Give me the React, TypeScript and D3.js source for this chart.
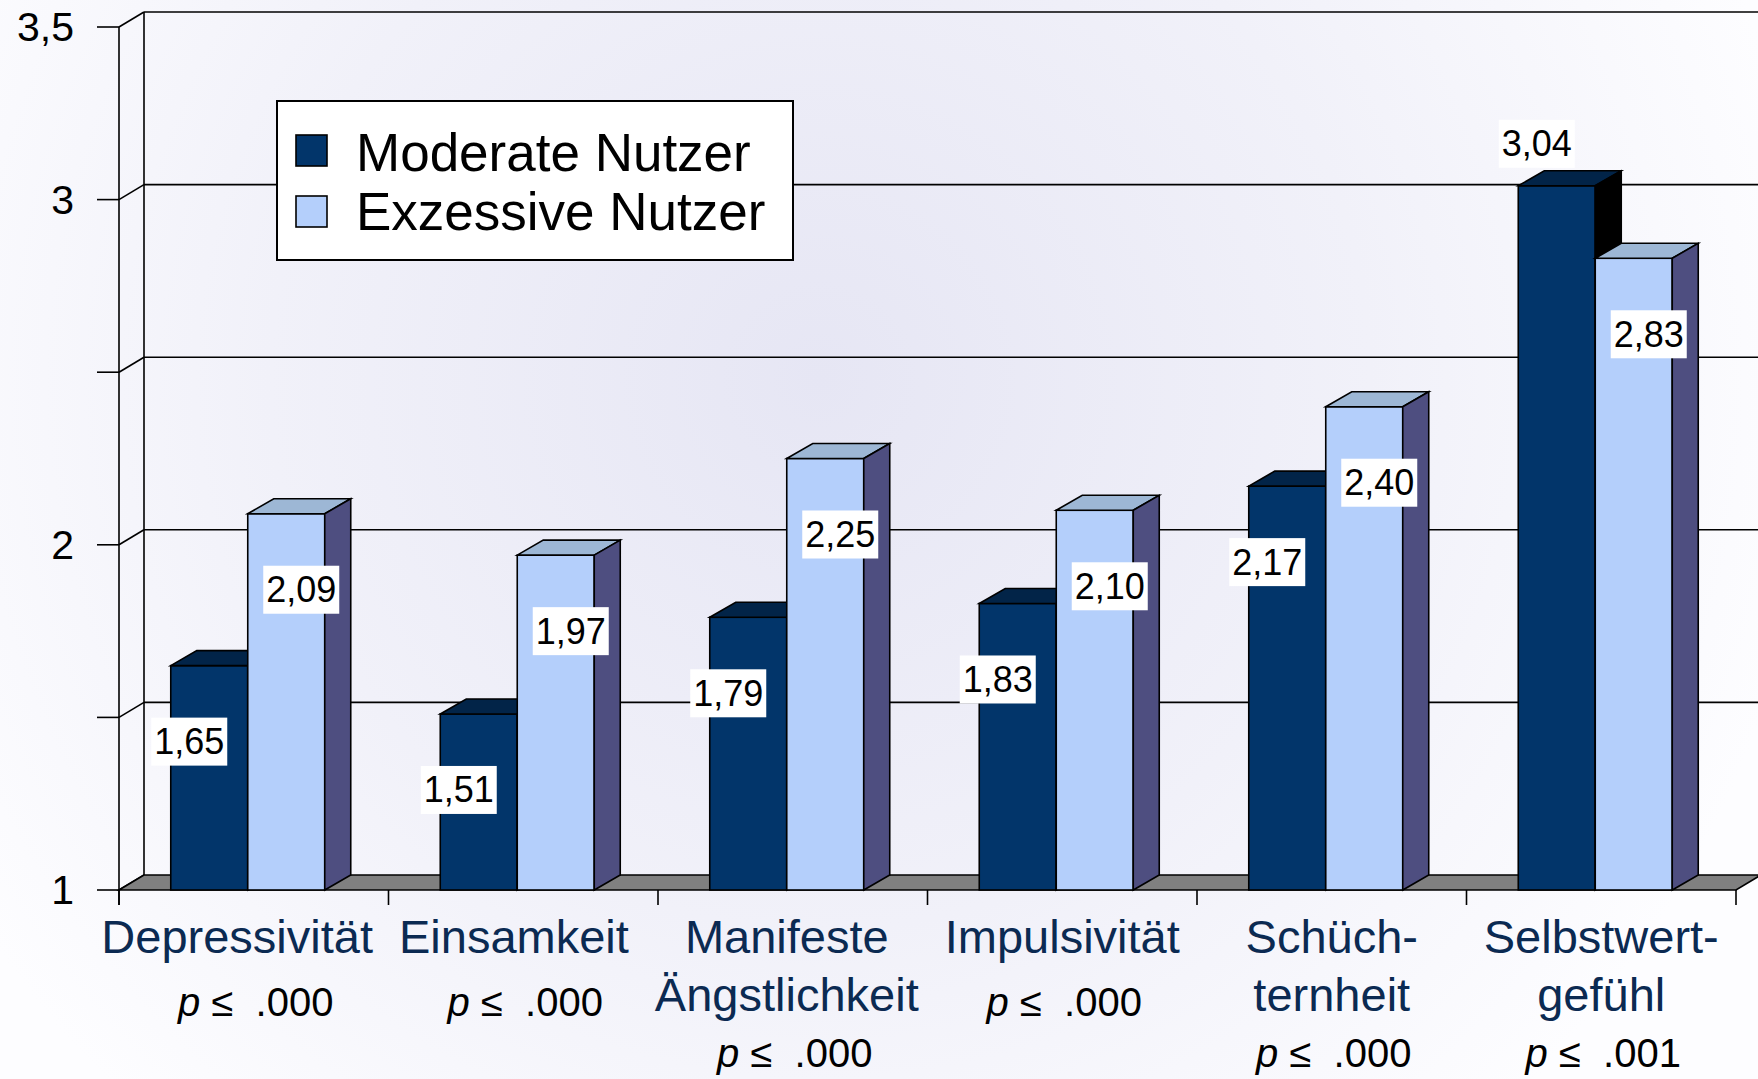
import React from "react";
import * as d3 from "d3";

const categories = ["Depressivität", "Einsamkeit", "Manifeste Ängstlichkeit", "Impulsivität", "Schüchternheit", "Selbstwertgefühl"];
const categoryLines = [["Depressivität"], ["Einsamkeit"], ["Manifeste", "Ängstlichkeit"], ["Impulsivität"], ["Schüch-", "ternheit"], ["Selbstwert-", "gefühl"]];
const pValues = [".000", ".000", ".000", ".000", ".000", ".001"];
const seriesNames = ["Moderate Nutzer", "Exzessive Nutzer"];
const moderate = [1.65, 1.51, 1.79, 1.83, 2.17, 3.04];
const exzessive = [2.09, 1.97, 2.25, 2.10, 2.40, 2.83];
const yTicks = [1, 1.5, 2, 2.5, 3, 3.5];
const yTickLabels = ["1", "", "2", "", "3", "3,5"];

const W = 1758, H = 1079;
const FONT = "'Liberation Sans', Arial, sans-serif";
const WDX = 25, WDY = 15; // wall depth
const BDX = 26, BDY = 15; // bar depth
const CAT_FONT = 47;
const colors = [
  { front: "#02356a", top: "#022448", side: "#000000" },
  { front: "#b4cffb", top: "#9db7d5", side: "#4e4e80" },
];

function measure(text: string, size: number): number {
  if (typeof document === "undefined") return text.length * size * 0.5;
  const c = document.createElement("canvas").getContext("2d");
  if (!c) return text.length * size * 0.5;
  c.font = `${size}px 'Liberation Sans', Arial, sans-serif`;
  return c.measureText(text).width;
}

export default function App() {
  const y = d3.scaleLinear().domain([1, 3.5]).range([890, 27]);
  const left = 119, right = 1736;
  const x0 = d3.scaleBand<string>().domain(categories).range([left, right]).paddingInner(0.4286).paddingOuter(0.2143);
  const x1 = d3.scaleBand<string>().domain(seriesNames).range([0, x0.bandwidth()]);
  const groupShift = -6; // 3D box centred including depth
  const series = [moderate, exzessive];
  const y0 = y(1);
  const maxV = d3.max(series.flat()) as number;
  const fmt = (v: number) => v.toFixed(2).replace(".", ",");

  // category label centres with simple overlap resolution (push left label leftwards)
  const centers = categories.map((c) => (x0(c) as number) + x0.bandwidth() / 2);
  const widths = categoryLines.map((ls) => d3.max(ls.map((l) => measure(l, CAT_FONT))) as number);
  const labelX = centers.slice();
  const minGap = 26;
  for (let i = labelX.length - 2; i >= 0; i--) {
    const rEdge = labelX[i] + widths[i] / 2;
    const lNext = labelX[i + 1] - widths[i + 1] / 2;
    if (rEdge > lNext - minGap) labelX[i] -= rEdge - (lNext - minGap);
  }

  return (
    <svg width={W} height={H} style={{ position: "absolute", left: 0, top: 0, display: "block" }} fontFamily={FONT}>
      <defs>
        <radialGradient id="bg" cx="820" cy="380" r="1000" gradientUnits="userSpaceOnUse">
          <stop offset="0" stopColor="#e6e6f4" />
          <stop offset="0.55" stopColor="#f1f1f9" />
          <stop offset="1" stopColor="#fdfdff" />
        </radialGradient>
      </defs>
      <rect x={0} y={0} width={W} height={H} fill="url(#bg)" />

      {/* walls & gridlines */}
      {yTicks.map((t, i) => (
        <g key={"g" + i}>
          <line x1={left} y1={y(t)} x2={left + WDX} y2={y(t) - WDY} stroke="#000" strokeWidth={1.6} />
          {t > 1 && <line x1={left + WDX} y1={y(t) - WDY} x2={W} y2={y(t) - WDY} stroke="#000" strokeWidth={1.6} />}
          <line x1={97} y1={y(t)} x2={left} y2={y(t)} stroke="#000" strokeWidth={1.6} />
          {yTickLabels[i] && (
            <text x={74} y={y(t)} textAnchor="end" dominantBaseline="central" fontSize={41} fill="#000">
              {yTickLabels[i]}
            </text>
          )}
        </g>
      ))}
      <line x1={left + WDX} y1={y(3.5) - WDY} x2={left + WDX} y2={y0 - WDY} stroke="#000" strokeWidth={1.6} />
      <line x1={left} y1={y(3.5)} x2={left} y2={y0 + 15} stroke="#000" strokeWidth={1.6} />

      {/* floor */}
      <polygon
        points={`${left},${y0} ${right},${y0} ${right + WDX},${y0 - WDY} ${left + WDX},${y0 - WDY}`}
        fill="#808080"
        stroke="#000"
        strokeWidth={1.6}
      />
      {d3.range(categories.length + 1).map((i) => {
        const xt = left + i * x0.step();
        return <line key={"ct" + i} x1={xt} y1={y0} x2={xt} y2={y0 + 15} stroke="#000" strokeWidth={1.6} />;
      })}

      {/* bars */}
      {categories.map((c, ci) => (
        <g key={c}>
          {series.map((vals, si) => {
            const v = vals[ci];
            const xa = (x0(c) as number) + groupShift + (x1(seriesNames[si]) as number);
            const xb = xa + x1.bandwidth();
            const yt = y(v);
            const col = colors[si];
            return (
              <g key={si}>
                <rect x={xa} y={yt} width={xb - xa} height={y0 - yt} fill={col.front} stroke="#000" strokeWidth={1.6} />
                <polygon
                  points={`${xa},${yt} ${xa + BDX},${yt - BDY} ${xb + BDX},${yt - BDY} ${xb},${yt}`}
                  fill={col.top}
                  stroke="#000"
                  strokeWidth={1.6}
                />
                <polygon
                  points={`${xb},${yt} ${xb + BDX},${yt - BDY} ${xb + BDX},${y0 - BDY} ${xb},${y0}`}
                  fill={col.side}
                  stroke="#000"
                  strokeWidth={1.6}
                />
              </g>
            );
          })}
        </g>
      ))}

      {/* value labels */}
      {categories.map((c, ci) =>
        series.map((vals, si) => {
          const v = vals[ci];
          const xa = (x0(c) as number) + groupShift + (x1(seriesNames[si]) as number);
          const xc = xa + x1.bandwidth() / 2;
          const above = v === maxV;
          const cx = xc + (si === 0 ? -20 : 15);
          const cy = above ? y(v) - BDY - 27 : y(v) + 76;
          return (
            <g key={c + si}>
              <rect x={cx - 38} y={cy - 24} width={76} height={48} fill="#fff" />
              <text x={cx} y={cy} textAnchor="middle" dominantBaseline="central" fontSize={36} fill="#000">
                {fmt(v)}
              </text>
            </g>
          );
        })
      )}

      {/* category labels */}
      {categories.map((c, ci) => {
        const cx = labelX[ci];
        const pc = centers[ci] + 2;
        const lines = categoryLines[ci];
        const pBase = lines.length === 1 ? 1016 : 1067;
        return (
          <g key={"cl" + ci}>
            {lines.map((l, li) => (
              <text key={li} x={cx} y={953 + li * 58} textAnchor="middle" fontSize={CAT_FONT} fill="#0b2a52">
                {l}
              </text>
            ))}
            <text x={pc} y={pBase} textAnchor="middle" fontSize={40} fill="#000" style={{ whiteSpace: "pre" }}>
              <tspan fontStyle="italic">p</tspan>
              <tspan>{" ≤  " + pValues[ci]}</tspan>
            </text>
          </g>
        );
      })}

      {/* legend */}
      <rect x={277} y={101} width={516} height={159} fill="#fff" stroke="#000" strokeWidth={2} />
      {seriesNames.map((s, i) => (
        <g key={s}>
          <rect x={296} y={135 + i * 61} width={31} height={31} fill={colors[i].front} stroke="#000" strokeWidth={1.6} />
          <text x={356} y={171 + i * 59} fontSize={53} fill="#000">
            {s}
          </text>
        </g>
      ))}
    </svg>
  );
}
